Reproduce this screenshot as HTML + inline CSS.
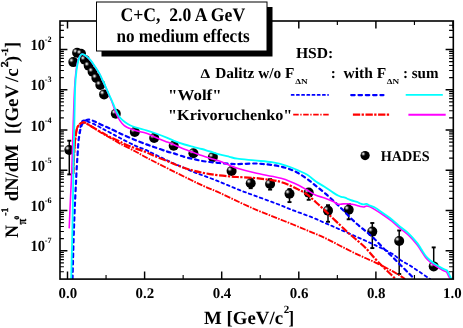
<!DOCTYPE html>
<html><head><meta charset="utf-8"><title>plot</title><style>html,body{margin:0;padding:0;background:#fff}body{width:463px;height:328px;overflow:hidden}</style></head><body>
<svg width="463" height="328" viewBox="0 0 463 328" text-rendering="geometricPrecision" style="display:block;will-change:transform;font-family:'Liberation Serif',serif;font-weight:bold">
<defs><radialGradient id="sph" cx="0.31" cy="0.32" r="0.62" fx="0.30" fy="0.31"><stop offset="0" stop-color="#f2f2f2"/><stop offset="0.10" stop-color="#c8c8c8"/><stop offset="0.28" stop-color="#3c3c3c"/><stop offset="0.42" stop-color="#000"/><stop offset="1" stop-color="#000"/></radialGradient><clipPath id="pc"><rect x="60.0" y="21.0" width="393.0" height="258.0"/></clipPath></defs>
<rect width="463" height="328" fill="#fff"/>
<g clip-path="url(#pc)">
<g stroke="#000" stroke-width="1.5" fill="none">
<path d="M69.3,140.5V174.6"/>
<path d="M67.3,140.7H71.3" stroke-width="1.9"/>
<path d="M67.3,174.4H71.3" stroke-width="1.9"/>
<path d="M250.7,178.5V188.4"/>
<path d="M248.7,178.7H252.7" stroke-width="1.9"/>
<path d="M248.7,188.2H252.7" stroke-width="1.9"/>
<path d="M270.1,179.0V189.8"/>
<path d="M268.1,179.2H272.1" stroke-width="1.9"/>
<path d="M268.1,189.6H272.1" stroke-width="1.9"/>
<path d="M289.5,188.9V202.3"/>
<path d="M287.5,189.1H291.5" stroke-width="1.9"/>
<path d="M287.5,202.1H291.5" stroke-width="1.9"/>
<path d="M308.7,188.8V200.0"/>
<path d="M306.7,189.0H310.7" stroke-width="1.9"/>
<path d="M306.7,199.8H310.7" stroke-width="1.9"/>
<path d="M328.0,205.0V222.0"/>
<path d="M326.0,205.2H330.0" stroke-width="1.9"/>
<path d="M326.0,221.8H330.0" stroke-width="1.9"/>
<path d="M348.7,203.8V219.5"/>
<path d="M346.7,204.0H350.7" stroke-width="1.9"/>
<path d="M346.7,219.3H350.7" stroke-width="1.9"/>
<path d="M372.3,222.8V248.3"/>
<path d="M370.3,223.0H374.3" stroke-width="1.9"/>
<path d="M370.3,248.1H374.3" stroke-width="1.9"/>
<path d="M399.2,230.3V274.2"/>
<path d="M397.2,230.5H401.2" stroke-width="1.9"/>
<path d="M397.2,274.0H401.2" stroke-width="1.9"/>
<path d="M433.7,247.2V266.4"/>
<path d="M431.7,247.4H435.7" stroke-width="1.9"/>
</g>
<circle cx="69.3" cy="150.0" r="5.0" fill="url(#sph)"/>
<circle cx="73.3" cy="62.1" r="5.0" fill="url(#sph)"/>
<circle cx="77.1" cy="52.8" r="5.0" fill="url(#sph)"/>
<circle cx="81.0" cy="53.8" r="5.0" fill="url(#sph)"/>
<circle cx="84.8" cy="59.8" r="5.0" fill="url(#sph)"/>
<circle cx="88.7" cy="65.8" r="5.0" fill="url(#sph)"/>
<circle cx="92.6" cy="71.7" r="5.0" fill="url(#sph)"/>
<circle cx="96.4" cy="78.0" r="5.0" fill="url(#sph)"/>
<circle cx="100.3" cy="84.9" r="5.0" fill="url(#sph)"/>
<circle cx="104.1" cy="94.4" r="5.0" fill="url(#sph)"/>
<circle cx="115.8" cy="113.7" r="5.0" fill="url(#sph)"/>
<circle cx="134.8" cy="132.0" r="5.0" fill="url(#sph)"/>
<circle cx="154.2" cy="138.0" r="5.0" fill="url(#sph)"/>
<circle cx="173.7" cy="145.8" r="5.0" fill="url(#sph)"/>
<circle cx="193.4" cy="153.2" r="5.0" fill="url(#sph)"/>
<circle cx="212.9" cy="157.1" r="5.0" fill="url(#sph)"/>
<circle cx="231.6" cy="171.0" r="5.0" fill="url(#sph)"/>
<circle cx="250.7" cy="183.2" r="5.0" fill="url(#sph)"/>
<circle cx="270.1" cy="184.0" r="5.0" fill="url(#sph)"/>
<circle cx="289.5" cy="193.7" r="5.0" fill="url(#sph)"/>
<circle cx="308.7" cy="192.6" r="5.0" fill="url(#sph)"/>
<circle cx="328.0" cy="210.6" r="5.0" fill="url(#sph)"/>
<circle cx="348.7" cy="209.7" r="5.0" fill="url(#sph)"/>
<circle cx="372.3" cy="231.6" r="5.0" fill="url(#sph)"/>
<circle cx="399.2" cy="241.0" r="5.0" fill="url(#sph)"/>
<circle cx="433.7" cy="266.4" r="5.0" fill="url(#sph)"/>
<g fill="none" stroke-linejoin="round">
<path d="M79.60,133.00 C79.70,132.25 79.97,130.00 80.20,128.50 C80.43,127.00 80.62,125.27 81.00,124.00 C81.38,122.73 81.83,121.47 82.50,120.90 C83.17,120.33 84.08,120.48 85.00,120.60 C85.92,120.72 86.10,120.82 88.00,121.60 C89.90,122.38 93.90,124.07 96.40,125.30 C98.90,126.53 100.73,127.78 103.00,129.00 C105.27,130.22 107.17,131.10 110.00,132.60 C112.83,134.10 115.83,135.83 120.00,138.00 C124.17,140.17 130.60,143.57 135.00,145.60 C139.40,147.63 143.13,148.75 146.40,150.20 C149.67,151.65 150.00,152.07 154.60,154.30 C159.20,156.53 169.02,161.32 174.00,163.60 C178.98,165.88 181.27,166.60 184.50,168.00 C187.73,169.40 190.52,170.83 193.40,172.00 C196.28,173.17 197.45,173.38 201.80,175.00 C206.15,176.62 213.58,179.33 219.50,181.70 C225.42,184.07 231.47,186.88 237.30,189.20 C243.13,191.52 248.22,193.28 254.50,195.60 C260.78,197.92 268.53,200.63 275.00,203.10 C281.47,205.57 287.18,208.05 293.30,210.40 C299.42,212.75 306.18,215.00 311.70,217.20 C317.22,219.40 321.68,221.55 326.40,223.60 C331.12,225.65 334.85,227.25 340.00,229.50 C345.15,231.75 351.55,234.53 357.30,237.10 C363.05,239.67 368.75,242.17 374.50,244.90 C380.25,247.63 387.48,250.98 391.80,253.50 C396.12,256.02 397.52,258.08 400.40,260.00 C403.28,261.92 406.00,263.08 409.10,265.00 C412.20,266.92 415.52,269.17 419.00,271.50 C422.48,273.83 428.17,277.75 430.00,279.00" stroke="#0000ff" stroke-width="1.85" stroke-linecap="round" stroke-dasharray="2.6 3.3"/>
<path d="M73.30,174.00 C73.37,172.50 73.57,168.25 73.70,165.00 C73.83,161.75 73.93,157.83 74.10,154.50 C74.27,151.17 74.47,147.88 74.70,145.00 C74.93,142.12 75.12,139.97 75.50,137.20 C75.88,134.43 76.33,130.53 77.00,128.40 C77.67,126.27 78.67,125.35 79.50,124.40 C80.33,123.45 81.17,123.02 82.00,122.70 C82.83,122.38 83.50,122.22 84.50,122.50 C85.50,122.78 86.02,123.23 88.00,124.40 C89.98,125.57 94.40,128.23 96.40,129.50 C98.40,130.77 97.73,130.62 100.00,132.00 C102.27,133.38 106.67,135.87 110.00,137.80 C113.33,139.73 115.83,141.37 120.00,143.60 C124.17,145.83 130.78,148.97 135.00,151.20 C139.22,153.43 141.97,155.20 145.30,157.00 C148.63,158.80 150.22,159.57 155.00,162.00 C159.78,164.43 168.00,168.60 174.00,171.60 C180.00,174.60 185.83,177.50 191.00,180.00 C196.17,182.50 200.17,184.43 205.00,186.60 C209.83,188.77 214.17,190.35 220.00,193.00 C225.83,195.65 233.67,199.57 240.00,202.50 C246.33,205.43 252.17,208.12 258.00,210.60 C263.83,213.08 269.17,215.08 275.00,217.40 C280.83,219.72 287.17,222.13 293.00,224.50 C298.83,226.87 304.67,229.35 310.00,231.60 C315.33,233.85 320.00,235.65 325.00,238.00 C330.00,240.35 334.62,242.97 340.00,245.70 C345.38,248.43 351.55,251.67 357.30,254.40 C363.05,257.13 368.75,259.37 374.50,262.10 C380.25,264.83 387.48,268.48 391.80,270.80 C396.12,273.12 398.17,274.63 400.40,276.00 C402.63,277.37 404.40,278.50 405.20,279.00" stroke="#ff0000" stroke-width="1.85" stroke-dasharray="6.2 1.2 1.6 1.2"/>
<path d="M72.50,279.00 C72.77,269.83 73.43,241.83 74.10,224.00 C74.77,206.17 75.92,183.58 76.50,172.00 C77.08,160.42 77.28,159.50 77.60,154.50 C77.92,149.50 78.10,145.25 78.40,142.00 C78.70,138.75 79.07,137.08 79.40,135.00 C79.73,132.92 79.97,131.23 80.40,129.50 C80.83,127.77 81.32,125.98 82.00,124.60 C82.68,123.22 83.40,122.02 84.50,121.20 C85.60,120.38 87.27,119.80 88.60,119.70 C89.93,119.60 91.20,120.17 92.50,120.60 C93.80,121.03 94.65,121.48 96.40,122.30 C98.15,123.12 100.85,124.52 103.00,125.50 C105.15,126.48 106.53,126.92 109.30,128.20 C112.07,129.48 117.07,132.00 119.60,133.20 C122.13,134.40 121.92,134.27 124.50,135.40 C127.08,136.53 131.45,138.50 135.10,140.00 C138.75,141.50 143.15,143.20 146.40,144.40 C149.65,145.60 151.12,146.00 154.60,147.20 C158.08,148.40 164.07,150.57 167.30,151.60 C170.53,152.63 171.13,152.50 174.00,153.40 C176.87,154.30 181.27,156.07 184.50,157.00 C187.73,157.93 190.52,158.35 193.40,159.00 C196.28,159.65 199.03,160.40 201.80,160.90 C204.57,161.40 207.05,161.65 210.00,162.00 C212.95,162.35 216.27,162.70 219.50,163.00 C222.73,163.30 226.43,163.62 229.40,163.80 C232.37,163.98 233.12,164.15 237.30,164.10 C241.48,164.05 250.22,163.52 254.50,163.50 C258.78,163.48 260.12,163.75 263.00,164.00 C265.88,164.25 268.80,164.57 271.80,165.00 C274.80,165.43 277.97,165.88 281.00,166.60 C284.03,167.32 287.07,168.18 290.00,169.30 C292.93,170.42 295.72,171.68 298.60,173.30 C301.48,174.92 304.42,176.90 307.30,179.00 C310.18,181.10 313.03,183.60 315.90,185.90 C318.77,188.20 321.62,190.35 324.50,192.80 C327.38,195.25 330.53,198.15 333.20,200.60 C335.87,203.05 337.93,204.95 340.50,207.50 C343.07,210.05 345.80,213.10 348.60,215.90 C351.40,218.70 354.42,221.73 357.30,224.30 C360.18,226.87 363.03,228.85 365.90,231.30 C368.77,233.75 371.62,236.22 374.50,239.00 C377.38,241.78 380.32,245.13 383.20,248.00 C386.08,250.87 388.93,253.38 391.80,256.20 C394.67,259.02 397.53,262.02 400.40,264.90 C403.27,267.78 406.67,271.15 409.00,273.50 C411.33,275.85 413.50,278.08 414.40,279.00" stroke="#0000ff" stroke-width="2.2" stroke-linecap="round" stroke-dasharray="3.5 3.8"/>
<path d="M73.30,174.00 C73.37,172.50 73.57,168.25 73.70,165.00 C73.83,161.75 73.93,157.83 74.10,154.50 C74.27,151.17 74.47,147.88 74.70,145.00 C74.93,142.12 75.12,139.97 75.50,137.20 C75.88,134.43 76.33,130.53 77.00,128.40 C77.67,126.27 78.67,125.35 79.50,124.40 C80.33,123.45 81.17,123.02 82.00,122.70 C82.83,122.38 83.50,122.22 84.50,122.50 C85.50,122.78 86.02,123.23 88.00,124.40 C89.98,125.57 93.87,128.02 96.40,129.50 C98.93,130.98 101.05,132.10 103.20,133.30 C105.35,134.50 106.55,135.33 109.30,136.70 C112.05,138.07 117.17,140.30 119.70,141.50 C122.23,142.70 121.93,142.78 124.50,143.90 C127.07,145.02 131.45,146.80 135.10,148.20 C138.75,149.60 143.15,151.00 146.40,152.30 C149.65,153.60 151.12,154.53 154.60,156.00 C158.08,157.47 164.07,159.78 167.30,161.10 C170.53,162.42 171.13,162.75 174.00,163.90 C176.87,165.05 181.27,166.88 184.50,168.00 C187.73,169.12 190.52,169.83 193.40,170.60 C196.28,171.37 199.03,172.02 201.80,172.60 C204.57,173.18 207.05,173.63 210.00,174.10 C212.95,174.57 216.27,175.02 219.50,175.40 C222.73,175.78 226.43,176.13 229.40,176.40 C232.37,176.67 233.12,176.73 237.30,177.00 C241.48,177.27 248.75,177.48 254.50,178.00 C260.25,178.52 267.38,179.43 271.80,180.10 C276.22,180.77 277.97,181.12 281.00,182.00 C284.03,182.88 287.07,184.13 290.00,185.40 C292.93,186.67 295.72,188.07 298.60,189.60 C301.48,191.13 304.42,192.50 307.30,194.60 C310.18,196.70 313.03,199.62 315.90,202.20 C318.77,204.78 322.20,207.92 324.50,210.10 C326.80,212.28 327.12,212.82 329.70,215.30 C332.28,217.78 336.85,222.02 340.00,225.00 C343.15,227.98 345.72,230.62 348.60,233.20 C351.48,235.78 354.42,238.00 357.30,240.50 C360.18,243.00 363.03,245.28 365.90,248.20 C368.77,251.12 371.62,254.87 374.50,258.00 C377.38,261.13 380.32,264.12 383.20,267.00 C386.08,269.88 389.73,273.30 391.80,275.30 C393.87,277.30 394.97,278.38 395.60,279.00" stroke="#ff0000" stroke-width="2.2" stroke-dasharray="7.3 1.4 2.3 1.6"/>
<path d="M69.20,228.40 C69.40,223.67 69.97,209.73 70.40,200.00 C70.83,190.27 71.33,182.50 71.80,170.00 C72.27,157.50 72.75,138.33 73.20,125.00 C73.65,111.67 74.03,99.00 74.50,90.00 C74.97,81.00 75.43,75.87 76.00,71.00 C76.57,66.13 77.23,63.33 77.90,60.80 C78.57,58.27 79.32,56.90 80.00,55.80 C80.68,54.70 81.33,54.38 82.00,54.20 C82.67,54.02 83.26,54.32 84.00,54.70 C84.74,55.08 85.38,55.57 86.45,56.50 C87.52,57.43 88.99,58.60 90.40,60.30 C91.81,62.00 93.45,64.55 94.90,66.70 C96.35,68.85 97.77,70.80 99.10,73.20 C100.42,75.60 101.71,78.65 102.85,81.10 C103.99,83.55 104.88,85.47 105.95,87.90 C107.03,90.33 108.38,93.55 109.30,95.70 C110.22,97.85 110.72,98.82 111.50,100.80 C112.28,102.78 113.18,105.40 114.00,107.60 C114.82,109.80 115.42,111.83 116.40,114.00 C117.38,116.17 118.58,118.67 119.90,120.60 C121.22,122.53 122.87,124.38 124.30,125.60 C125.73,126.82 126.70,127.07 128.50,127.90 C130.30,128.73 132.12,129.70 135.10,130.60 C138.08,131.50 143.15,132.23 146.40,133.30 C149.65,134.37 151.12,135.53 154.60,137.00 C158.08,138.47 164.07,140.82 167.30,142.10 C170.53,143.38 171.13,143.50 174.00,144.70 C176.87,145.90 181.27,148.02 184.50,149.30 C187.73,150.58 190.52,151.35 193.40,152.40 C196.28,153.45 199.03,154.62 201.80,155.60 C204.57,156.58 207.08,157.38 210.00,158.30 C212.92,159.22 216.07,159.95 219.30,161.10 C222.53,162.25 226.40,164.00 229.40,165.20 C232.40,166.40 233.12,167.03 237.30,168.30 C241.48,169.57 248.75,171.47 254.50,172.80 C260.25,174.13 267.38,175.38 271.80,176.30 C276.22,177.22 277.97,177.45 281.00,178.30 C284.03,179.15 287.07,180.23 290.00,181.40 C292.93,182.57 295.72,183.83 298.60,185.30 C301.48,186.77 304.42,188.55 307.30,190.20 C310.18,191.85 313.03,193.90 315.90,195.20 C318.77,196.50 321.62,196.93 324.50,198.00 C327.38,199.07 330.95,200.57 333.20,201.60 C335.45,202.63 336.33,203.82 338.00,204.20 C339.67,204.58 341.47,203.97 343.20,203.90 C344.93,203.83 346.93,203.73 348.40,203.80 C349.87,203.87 350.57,204.03 352.00,204.30 C353.43,204.57 355.60,205.03 357.00,205.40 C358.40,205.77 359.30,206.23 360.40,206.50 C361.50,206.77 362.58,207.08 363.60,207.00 C364.62,206.92 365.55,206.08 366.50,206.00 C367.45,205.92 367.97,205.93 369.30,206.50 C370.63,207.07 372.18,207.98 374.50,209.40 C376.82,210.82 380.32,213.05 383.20,215.00 C386.08,216.95 388.93,218.82 391.80,221.10 C394.67,223.38 397.53,226.28 400.40,228.70 C403.27,231.12 406.22,232.93 409.00,235.60 C411.78,238.27 415.02,242.08 417.10,244.70 C419.18,247.32 420.08,249.17 421.50,251.30 C422.92,253.43 424.18,255.72 425.60,257.50 C427.02,259.28 428.57,260.72 430.00,262.00 C431.43,263.28 432.08,263.82 434.20,265.20 C436.32,266.58 440.65,269.17 442.70,270.30 C444.75,271.43 445.50,270.98 446.50,272.00 C447.50,273.02 448.02,275.23 448.70,276.40 C449.38,277.57 450.28,278.57 450.60,279.00" stroke="#ff00ff" stroke-width="1.6"/>
<path d="M71.20,279.00 C71.42,270.00 72.13,243.17 72.50,225.00 C72.87,206.83 73.08,187.50 73.40,170.00 C73.72,152.50 74.10,134.00 74.40,120.00 C74.70,106.00 74.85,94.25 75.20,86.00 C75.55,77.75 75.98,74.75 76.50,70.50 C77.02,66.25 77.67,62.98 78.30,60.50 C78.93,58.02 79.68,56.67 80.30,55.60 C80.92,54.53 81.38,54.27 82.00,54.10 C82.62,53.93 83.25,54.22 84.00,54.60 C84.75,54.98 85.42,55.47 86.50,56.40 C87.58,57.33 89.08,58.50 90.50,60.20 C91.92,61.90 93.55,64.45 95.00,66.60 C96.45,68.75 97.87,70.70 99.20,73.10 C100.53,75.50 101.85,78.55 103.00,81.00 C104.15,83.45 105.02,85.38 106.10,87.80 C107.18,90.22 108.55,93.38 109.50,95.50 C110.45,97.62 110.97,98.58 111.80,100.50 C112.63,102.42 113.60,104.95 114.50,107.00 C115.40,109.05 116.28,111.03 117.20,112.80 C118.12,114.57 118.73,116.08 120.00,117.60 C121.27,119.12 123.13,120.63 124.80,121.90 C126.47,123.17 128.23,124.30 130.00,125.20 C131.77,126.10 132.67,126.45 135.40,127.30 C138.13,128.15 143.20,129.35 146.40,130.30 C149.60,131.25 151.12,131.75 154.60,133.00 C158.08,134.25 164.07,136.48 167.30,137.80 C170.53,139.12 171.13,139.78 174.00,140.90 C176.87,142.02 181.27,143.50 184.50,144.50 C187.73,145.50 190.52,146.15 193.40,146.90 C196.28,147.65 199.03,148.23 201.80,149.00 C204.57,149.77 207.08,150.62 210.00,151.50 C212.92,152.38 216.07,153.42 219.30,154.30 C222.53,155.18 226.40,156.07 229.40,156.80 C232.40,157.53 233.12,158.10 237.30,158.70 C241.48,159.30 248.75,159.83 254.50,160.40 C260.25,160.97 267.38,161.47 271.80,162.10 C276.22,162.73 277.97,163.38 281.00,164.20 C284.03,165.02 287.07,165.93 290.00,167.00 C292.93,168.07 295.72,169.30 298.60,170.60 C301.48,171.90 304.42,173.00 307.30,174.80 C310.18,176.60 313.03,179.40 315.90,181.40 C318.77,183.40 321.62,184.93 324.50,186.80 C327.38,188.67 330.87,191.10 333.20,192.60 C335.53,194.10 337.12,195.08 338.50,195.80 C339.88,196.52 340.42,196.60 341.50,196.90 C342.58,197.20 343.85,197.22 345.00,197.60 C346.15,197.98 347.23,198.72 348.40,199.20 C349.57,199.68 350.57,200.05 352.00,200.50 C353.43,200.95 355.60,201.40 357.00,201.90 C358.40,202.40 359.32,203.08 360.40,203.50 C361.48,203.92 362.48,204.33 363.50,204.40 C364.52,204.47 365.53,203.75 366.50,203.90 C367.47,204.05 367.97,204.73 369.30,205.30 C370.63,205.87 372.18,205.97 374.50,207.30 C376.82,208.63 380.32,211.28 383.20,213.30 C386.08,215.32 388.93,217.13 391.80,219.40 C394.67,221.67 397.53,224.50 400.40,226.90 C403.27,229.30 406.22,231.13 409.00,233.80 C411.78,236.47 415.02,240.28 417.10,242.90 C419.18,245.52 420.08,247.35 421.50,249.50 C422.92,251.65 424.18,254.00 425.60,255.80 C427.02,257.60 428.57,259.02 430.00,260.30 C431.43,261.58 432.08,262.12 434.20,263.50 C436.32,264.88 440.57,267.43 442.70,268.60 C444.83,269.77 445.85,269.37 447.00,270.50 C448.15,271.63 448.88,273.98 449.60,275.40 C450.32,276.82 451.02,278.40 451.30,279.00" stroke="#00ffff" stroke-width="1.85"/>
</g>
</g>
<rect x="60.0" y="21.0" width="393.3" height="258.1" fill="none" stroke="#000" stroke-width="1.6"/>
<path d="M67.50,279.0v-7.4M67.50,21.0v7.4M144.60,279.0v-7.4M144.60,21.0v7.4M221.70,279.0v-7.4M221.70,21.0v7.4M298.80,279.0v-7.4M298.80,21.0v7.4M375.90,279.0v-7.4M375.90,21.0v7.4M453.00,279.0v-7.4M453.00,21.0v7.4M60.0,250.70h7.4M453.0,250.70h-7.4M60.0,210.46h7.4M453.0,210.46h-7.4M60.0,170.22h7.4M453.0,170.22h-7.4M60.0,129.98h7.4M453.0,129.98h-7.4M60.0,89.74h7.4M453.0,89.74h-7.4M60.0,49.50h7.4M453.0,49.50h-7.4" stroke="#000" stroke-width="1.45" fill="none"/>
<path d="M106.05,279.0v-3.9M106.05,21.0v3.9M183.15,279.0v-3.9M183.15,21.0v3.9M260.25,279.0v-3.9M260.25,21.0v3.9M337.35,279.0v-3.9M337.35,21.0v3.9M414.45,279.0v-3.9M414.45,21.0v3.9M60.0,271.74h3.9M453.0,271.74h-3.9M60.0,266.71h3.9M453.0,266.71h-3.9M60.0,262.81h3.9M453.0,262.81h-3.9M60.0,259.63h3.9M453.0,259.63h-3.9M60.0,256.93h3.9M453.0,256.93h-3.9M60.0,254.60h3.9M453.0,254.60h-3.9M60.0,252.54h3.9M453.0,252.54h-3.9M60.0,238.59h3.9M453.0,238.59h-3.9M60.0,231.50h3.9M453.0,231.50h-3.9M60.0,226.47h3.9M453.0,226.47h-3.9M60.0,222.57h3.9M453.0,222.57h-3.9M60.0,219.39h3.9M453.0,219.39h-3.9M60.0,216.69h3.9M453.0,216.69h-3.9M60.0,214.36h3.9M453.0,214.36h-3.9M60.0,212.30h3.9M453.0,212.30h-3.9M60.0,198.35h3.9M453.0,198.35h-3.9M60.0,191.26h3.9M453.0,191.26h-3.9M60.0,186.23h3.9M453.0,186.23h-3.9M60.0,182.33h3.9M453.0,182.33h-3.9M60.0,179.15h3.9M453.0,179.15h-3.9M60.0,176.45h3.9M453.0,176.45h-3.9M60.0,174.12h3.9M453.0,174.12h-3.9M60.0,172.06h3.9M453.0,172.06h-3.9M60.0,158.11h3.9M453.0,158.11h-3.9M60.0,151.02h3.9M453.0,151.02h-3.9M60.0,145.99h3.9M453.0,145.99h-3.9M60.0,142.09h3.9M453.0,142.09h-3.9M60.0,138.91h3.9M453.0,138.91h-3.9M60.0,136.21h3.9M453.0,136.21h-3.9M60.0,133.88h3.9M453.0,133.88h-3.9M60.0,131.82h3.9M453.0,131.82h-3.9M60.0,117.87h3.9M453.0,117.87h-3.9M60.0,110.78h3.9M453.0,110.78h-3.9M60.0,105.75h3.9M453.0,105.75h-3.9M60.0,101.85h3.9M453.0,101.85h-3.9M60.0,98.67h3.9M453.0,98.67h-3.9M60.0,95.97h3.9M453.0,95.97h-3.9M60.0,93.64h3.9M453.0,93.64h-3.9M60.0,91.58h3.9M453.0,91.58h-3.9M60.0,77.63h3.9M453.0,77.63h-3.9M60.0,70.54h3.9M453.0,70.54h-3.9M60.0,65.51h3.9M453.0,65.51h-3.9M60.0,61.61h3.9M453.0,61.61h-3.9M60.0,58.43h3.9M453.0,58.43h-3.9M60.0,55.73h3.9M453.0,55.73h-3.9M60.0,53.40h3.9M453.0,53.40h-3.9M60.0,51.34h3.9M453.0,51.34h-3.9M60.0,37.39h3.9M453.0,37.39h-3.9M60.0,30.30h3.9M453.0,30.30h-3.9M60.0,25.27h3.9M453.0,25.27h-3.9" stroke="#000" stroke-width="1.15" fill="none"/>
<rect x="101.5" y="7" width="171" height="49.5" fill="#000"/>
<rect x="96.5" y="2" width="170.5" height="49" fill="#fff" stroke="#000" stroke-width="1"/>
<text x="120.4" y="20.9" font-size="19.2" textLength="124.8" lengthAdjust="spacingAndGlyphs" xml:space="preserve">C+C,  2.0 A GeV</text>
<text x="116.4" y="41.7" font-size="18.8" textLength="133.2" lengthAdjust="spacingAndGlyphs">no medium effects</text>
<g font-size="15.2">
<text x="295.9" y="57.7" textLength="37.4" lengthAdjust="spacingAndGlyphs">HSD:</text>
<text x="200.6" y="77.8" font-size="13.4" textLength="9.6" lengthAdjust="spacingAndGlyphs">Δ</text>
<text x="215.2" y="77.8" textLength="79.2" lengthAdjust="spacingAndGlyphs">Dalitz w/o F</text>
<text x="295.2" y="83.8" font-size="7.6" textLength="12.4" lengthAdjust="spacingAndGlyphs">ΔN</text>
<text x="330.8" y="77.8">:</text>
<text x="343.6" y="77.8" textLength="42.6" lengthAdjust="spacingAndGlyphs">with F</text>
<text x="386.7" y="83.8" font-size="7.6" textLength="12.4" lengthAdjust="spacingAndGlyphs">ΔN</text>
<text x="402.9" y="77.8" textLength="35.6" lengthAdjust="spacingAndGlyphs">: sum</text>
<text x="168.1" y="99.8" textLength="53.5" lengthAdjust="spacingAndGlyphs">"Wolf"</text>
<text x="168.1" y="120.4" textLength="124.2" lengthAdjust="spacingAndGlyphs">"Krivoruchenko"</text>
<text x="380.8" y="161.0" font-size="14.8" textLength="48.9" lengthAdjust="spacingAndGlyphs">HADES</text>
</g>
<circle cx="365.1" cy="155.6" r="4.6" fill="url(#sph)"/>
<g fill="none">
<path d="M291.6,94.9H328.1" stroke="#0000ff" stroke-width="1.7" stroke-linecap="round" stroke-dasharray="2.2 3.0"/>
<path d="M351.2,95.1H383.5" stroke="#0000ff" stroke-width="2.2" stroke-linecap="round" stroke-dasharray="3.5 3.8"/>
<path d="M405.7,94.8H442.8" stroke="#00ffff" stroke-width="1.85"/>
<path d="M293.2,114.7H329.0" stroke="#ff0000" stroke-width="1.7" stroke-dasharray="5.5 1.6 1.3 1.6"/>
<path d="M352.9,114.7H389.5" stroke="#ff0000" stroke-width="2.2" stroke-dasharray="7.3 1.4 2.3 1.6"/>
<path d="M408.4,114.75H445.7" stroke="#ff00ff" stroke-width="1.85"/>
</g>
<text x="67.8" y="298.2" font-size="14.9" text-anchor="middle">0.0</text>
<text x="144.9" y="298.2" font-size="14.9" text-anchor="middle">0.2</text>
<text x="222.0" y="298.2" font-size="14.9" text-anchor="middle">0.4</text>
<text x="299.1" y="298.2" font-size="14.9" text-anchor="middle">0.6</text>
<text x="376.2" y="298.2" font-size="14.9" text-anchor="middle">0.8</text>
<text x="452.4" y="298.2" font-size="14.9" text-anchor="middle">1.0</text>
<text x="204.0" y="324.0" font-size="18.6" textLength="79.0" lengthAdjust="spacingAndGlyphs">M [GeV/c</text>
<text x="283.7" y="313.0" font-size="11">2</text>
<text x="288.4" y="324.0" font-size="18.6" textLength="5.6" lengthAdjust="spacingAndGlyphs">]</text>
<text x="30.4" y="251.4" font-size="15.6" textLength="14.6" lengthAdjust="spacingAndGlyphs">10</text>
<text x="44.7" y="243.3" font-size="8.2">-7</text>
<text x="30.4" y="211.2" font-size="15.6" textLength="14.6" lengthAdjust="spacingAndGlyphs">10</text>
<text x="44.7" y="203.1" font-size="8.2">-6</text>
<text x="30.4" y="170.9" font-size="15.6" textLength="14.6" lengthAdjust="spacingAndGlyphs">10</text>
<text x="44.7" y="162.8" font-size="8.2">-5</text>
<text x="30.4" y="130.7" font-size="15.6" textLength="14.6" lengthAdjust="spacingAndGlyphs">10</text>
<text x="44.7" y="122.6" font-size="8.2">-4</text>
<text x="30.4" y="90.4" font-size="15.6" textLength="14.6" lengthAdjust="spacingAndGlyphs">10</text>
<text x="44.7" y="82.3" font-size="8.2">-3</text>
<text x="30.4" y="50.2" font-size="15.6" textLength="14.6" lengthAdjust="spacingAndGlyphs">10</text>
<text x="44.7" y="42.1" font-size="8.2">-2</text>
<g transform="translate(18.0,238.6) rotate(-90)" font-size="19">
<text x="0.8" y="0" textLength="12.7" lengthAdjust="spacingAndGlyphs">N</text>
<text x="14.0" y="7.8" textLength="5.6" lengthAdjust="spacingAndGlyphs" font-size="13" stroke="#000" stroke-width="0.35">π</text>
<text x="19.0" y="0.7" textLength="3.7" lengthAdjust="spacingAndGlyphs" font-size="6.6" stroke="#000" stroke-width="0.35">0</text>
<text x="22.9" y="-10.3" textLength="8.2" lengthAdjust="spacingAndGlyphs" font-size="9.8" stroke="#000" stroke-width="0.35">-1</text>
<text x="37.4" y="0" textLength="56.8" lengthAdjust="spacingAndGlyphs">dN/dM</text>
<text x="104.4" y="0" textLength="49.4" lengthAdjust="spacingAndGlyphs">[(GeV</text>
<text x="156.7" y="0" textLength="13.6" lengthAdjust="spacingAndGlyphs">/c</text>
<text x="171.3" y="-10.3" textLength="5.9" lengthAdjust="spacingAndGlyphs" font-size="10.6" stroke="#000" stroke-width="0.35">2</text>
<text x="176.6" y="0" textLength="6.0" lengthAdjust="spacingAndGlyphs">)</text>
<text x="182.8" y="-10.3" textLength="7.7" lengthAdjust="spacingAndGlyphs" font-size="9.8" stroke="#000" stroke-width="0.35">-1</text>
<text x="190.6" y="0" textLength="6.0" lengthAdjust="spacingAndGlyphs">]</text>
</g>
</svg>
</body></html>
